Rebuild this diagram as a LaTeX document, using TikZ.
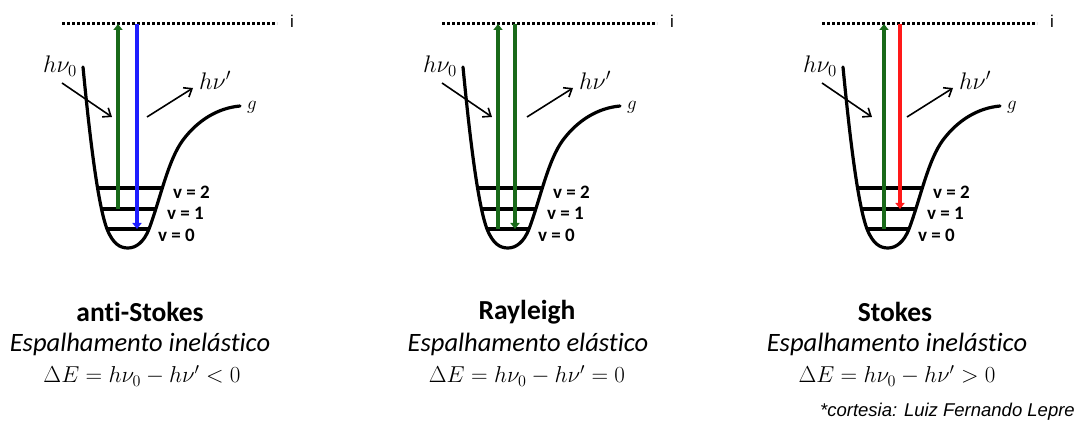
\RequirePackage{fix-cm}
\documentclass[tikz,border=0pt]{standalone}
\usepackage{fontspec}
\setmainfont[Ligatures=NoCommon]{Carlito}
\newfontfamily\arialfont{Liberation Sans}
\usetikzlibrary{arrows.meta}
\definecolor{dgreen}{RGB}{25,105,25}
\definecolor{rblue}{RGB}{30,30,255}
\definecolor{rred}{RGB}{255,25,25}
\tikzset{
  well/.style={line width=3.2pt, line cap=round},
  lvl/.style={line width=3.2pt},
  dotline/.style={line width=3pt, dash pattern=on 3pt off 2pt},
  trans/.style={line width=3.4pt, -{Triangle[length=6pt,width=9pt]}},
  photon/.style={line width=1.6pt, -{Straight Barb[length=7pt,width=11pt]}},
  lvllab/.style={font=\bfseries\fontsize{19}{19}\selectfont, inner sep=0pt, anchor=west},
  ilab/.style={font=\arialfont\fontsize{17}{17}\selectfont, inner sep=0pt},
  mlab/.style={font=\fontsize{24}{24}\selectfont, inner sep=0pt},
  glab/.style={font=\fontsize{19}{19}\selectfont, inner sep=0pt},
  titlelab/.style={font=\bfseries\fontsize{27.5}{27.5}\selectfont, inner sep=0pt},
  kindlab/.style={font=\itshape\fontsize{26.5}{26.5}\selectfont, inner sep=0pt},
  eqlab/.style={font=\fontsize{23}{23}\selectfont, inner sep=0pt},
  credit/.style={font=\arialfont\itshape\fontsize{18.5}{18.5}\selectfont, inner sep=0pt, anchor=east}
}
\begin{document}
\begin{tikzpicture}[x=1pt,y=-1pt]
\useasboundingbox (0,0) rectangle (1080,425);
\foreach \p/\dx in {a/0,b/380,c/760}{
  \begin{scope}[xshift=\dx]
    \draw[well] (83,67) .. controls (90,140) and (98,205) .. (107,229)
      .. controls (113,244) and (120,248) .. (128,248)
      .. controls (136,248) and (144,242) .. (149,229)
      .. controls (160,200) and (168,160) .. (183,140)
      .. controls (198,120) and (218,108) .. (240,106);
    \coordinate (L2l\p) at (98,188); \coordinate (L2r\p) at (163,188);
    \coordinate (L1l\p) at (102,209); \coordinate (L1r\p) at (157,209);
    \coordinate (L0l\p) at (107,229); \coordinate (L0r\p) at (149,229);
    \draw[lvl] (L2l\p) -- (L2r\p);
    \draw[lvl] (L1l\p) -- (L1r\p);
    \draw[lvl] (L0l\p) -- (L0r\p);
    \node[lvllab] (v2\p) at (173,192) {v = 2};
    \node[lvllab] (v1\p) at (167,213) {v = 1};
    \node[lvllab] (v0\p) at (158,235) {v = 0};
    \coordinate (Tl\p) at (62,24); \coordinate (Tr\p) at (277,24);
    \draw[dotline] (Tl\p) -- (Tr\p);
    \node[ilab] (i\p) at (292,21) {i};
    \node[glab] (g\p) at (252,107) {$g$};
    \node[mlab] (h0\p) at (60,66) {$h\nu_0$};
    \coordinate (h0s\p) at (62,83); \coordinate (h0e\p) at (112,117);
    \draw[photon] (h0s\p) -- (h0e\p);
    \node[mlab] (h1\p) at (215,80) {$h\nu'$};
    \coordinate (h1s\p) at (147,117); \coordinate (h1e\p) at (193,88);
    \draw[photon] (h1s\p) -- (h1e\p);
  \end{scope}
}
% anti-Stokes transitions
\coordinate (aup0) at (118,209); \coordinate (aup1) at (118,24);
\draw[trans,dgreen] (aup0) -- (aup1);
\coordinate (adn0) at (137,24); \coordinate (adn1) at (137,229);
\draw[trans,rblue] (adn0) -- (adn1);
% Rayleigh transitions
\coordinate (bup0) at (498,229); \coordinate (bup1) at (498,24);
\draw[trans,dgreen] (bup0) -- (bup1);
\coordinate (bdn0) at (515,24); \coordinate (bdn1) at (515,229);
\draw[trans,dgreen] (bdn0) -- (bdn1);
% Stokes transitions
\coordinate (cup0) at (884,229); \coordinate (cup1) at (884,24);
\draw[trans,dgreen] (cup0) -- (cup1);
\coordinate (cdn0) at (900,24); \coordinate (cdn1) at (900,209);
\draw[trans,rred] (cdn0) -- (cdn1);
% captions
\node[titlelab] (ta) at (140,312) {anti-Stokes};
\node[kindlab] (ka) at (140,344) {Espalhamento inelástico};
\node[eqlab] (ea) at (142,376) {$\Delta E = h\nu_0 - h\nu' < 0$};
\node[titlelab] (tb) at (527,312) {Rayleigh};
\node[kindlab] (kb) at (528,344) {Espalhamento elástico};
\node[eqlab] (eb) at (527,376) {$\Delta E = h\nu_0 - h\nu' = 0$};
\node[titlelab] (tc) at (895,312) {Stokes};
\node[kindlab] (kc) at (897,344) {Espalhamento inelástico};
\node[eqlab] (ec) at (897,376) {$\Delta E = h\nu_0 - h\nu' > 0$};
\node[credit] (cr) at (1075,412) {*cortesia: Luiz Fernando Lepre};
\end{tikzpicture}
\end{document}
